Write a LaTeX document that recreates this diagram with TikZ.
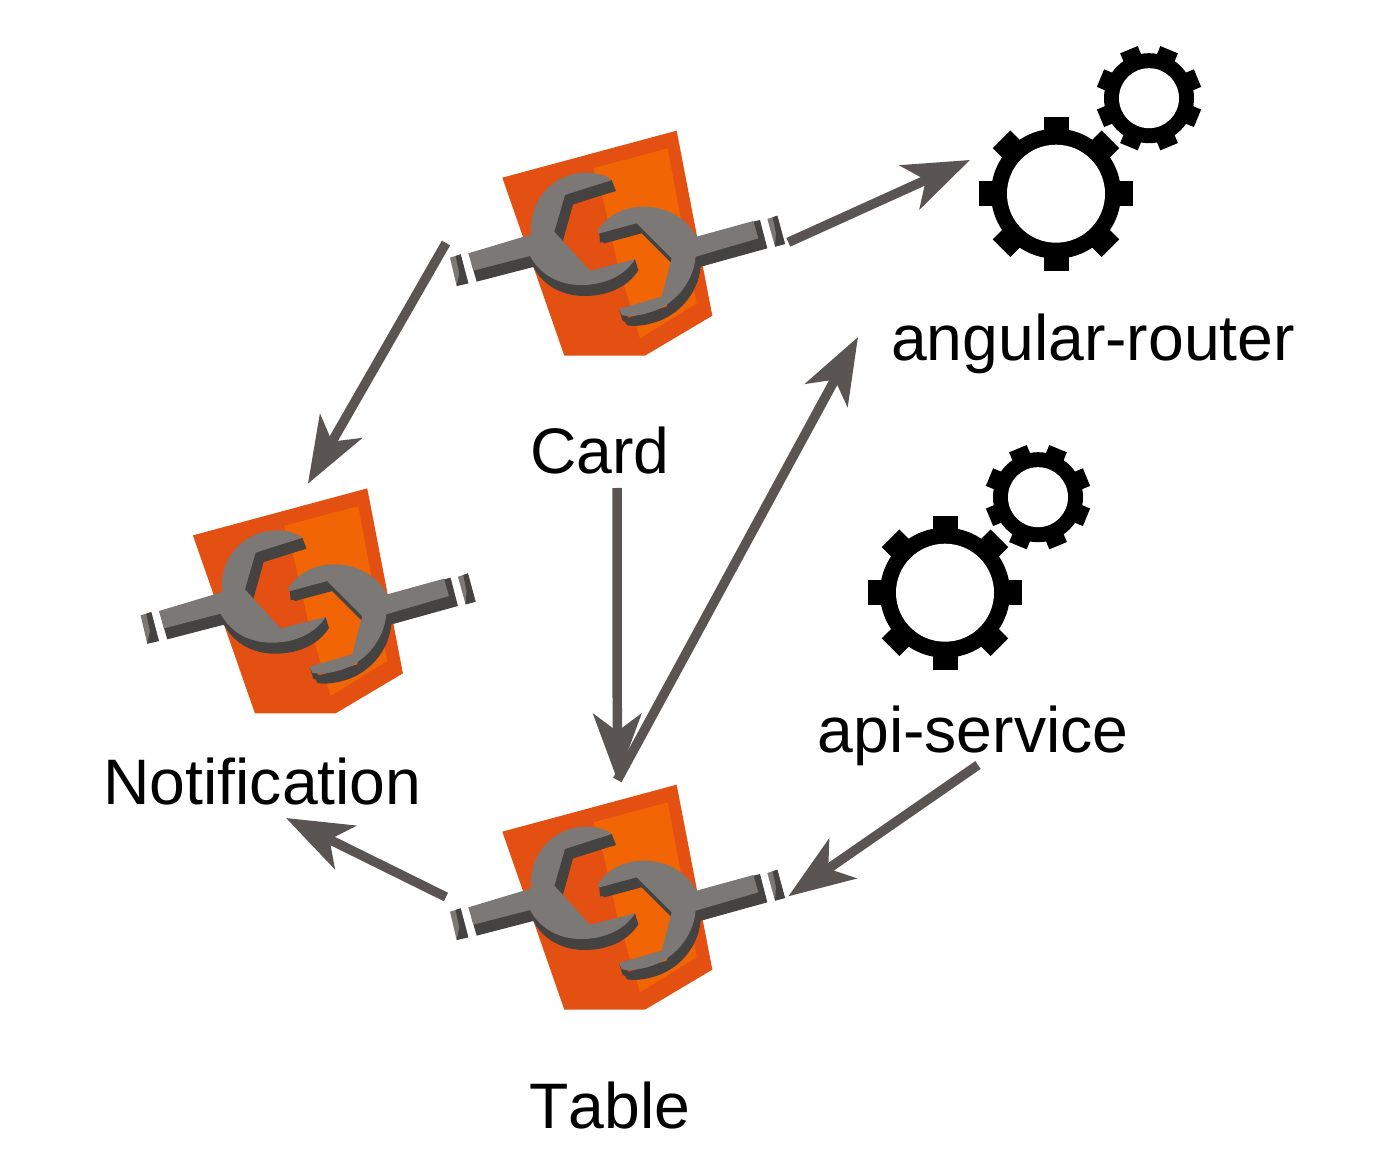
\documentclass[tikz,border=0pt]{standalone}
\usepackage{fontspec}
\setmainfont[Kerning=Off]{Liberation Sans}
\usetikzlibrary{arrows.meta}
\definecolor{shieldDark}{HTML}{E45011}
\definecolor{shieldLight}{HTML}{F16504}
\definecolor{wrenchGray}{HTML}{7B7875}
\definecolor{wrenchDark}{HTML}{454341}
\definecolor{arrowGray}{HTML}{5A5553}
\newcommand{\leftwrench}{(500,170) arc[start angle=-68,end angle=-187,radius=165] -- (85,400) -- (100,452) -- (270,408)
	.. controls (300,465) and (360,497) .. (430,495) .. controls (500,493) and (555,465) .. (585,418)
	-- (450,452) -- (343,335) -- (375,225) -- (515,180) -- cycle}
\newcommand{\rightwrench}{(472,335) .. controls (500,285) and (555,260) .. (610,260) .. controls (680,260) and (740,295) .. (770,350)
	-- (940,303) -- (955,355) -- (767,410) .. controls (760,490) and (700,560) .. (620,580) .. controls (590,588) and (560,590) .. (545,585)
	-- (537,567) -- (665,530) -- (695,415) -- (590,310) -- (478,340) -- cycle}
\tikzset{
	component/.pic={
		\begin{scope}[scale=1/3]
			\fill[shieldDark] (187,173) -- (710,32) -- (817,587) -- (615,707) -- (373,707) -- cycle;
			\fill[shieldLight] (460,145) -- (683,85) -- (770,550) -- (600,655) -- (560,520) -- (530,420) -- (490,240) -- cycle;
			% shadows first
			\fill[wrenchDark,shift={(10,33)}] \leftwrench;
			\fill[wrenchDark] (375,225) -- (515,180) -- (528,213) -- (400,250) -- (368,365) -- (343,335) -- cycle;
			\fill[wrenchDark] (585,418) -- (595,451) -- (540,485) -- (500,470) -- cycle;
			\fill[wrenchDark,shift={(15,30)}] \rightwrench;
			\fill[wrenchDark] (940,305) -- (960,300) -- (982,385) -- (790,438) -- cycle;
			\fill[wrenchDark] (478,340) -- (590,310) -- (610,335) -- (480,368) -- cycle;
			\fill[wrenchDark] (537,567) -- (560,585) -- (575,612) -- (548,603) -- cycle;
			\fill[wrenchGray] \leftwrench;
			\fill[wrenchGray] \rightwrench;
			% loose ends of the handles
			\fill[wrenchGray] (30,413) -- (62,403) -- (85,490) -- (50,498) -- cycle;
			\fill[wrenchDark] (47,408) -- (62,403) -- (85,490) -- (50,498) -- (58,460) -- cycle;
			\fill[wrenchGray] (982,297) -- (1012,287) -- (1035,372) -- (1005,380) -- cycle;
			\fill[wrenchDark] (998,292) -- (1012,287) -- (1035,372) -- (1005,380) -- (1008,340) -- cycle;
			\coordinate (-north) at (532,18);
			\coordinate (-west) at (18,369);
			\coordinate (-east) at (1045,367);
		\end{scope}
	},
	gears/.pic={
		\fill (0,0) circle[radius=65];
		\foreach \a in {0,45,...,315}
			\fill[rotate=\a] (55,-12.5) rectangle (77,12.5);
		\fill[white] (0,0) circle[radius=49];
		\begin{scope}[shift={(93,-95.5)}]
			\fill (0,0) circle[radius=45];
			\foreach \a in {22.5,67.5,...,337.5}
				\fill[rotate=\a] (38,-9.5) rectangle (52.5,9.5);
			\fill[white] (0,0) circle[radius=30];
		\end{scope}
	},
	label/.style={inner sep=0pt,anchor=base,font=\fontsize{36.6}{40}\selectfont},
	dep/.style={arrowGray,line width=5.4pt}
}
\begin{document}
\begin{tikzpicture}[
	x=0.02cm,
	y=-0.02cm,
	>={Stealth[length=37.6pt,width=27.3pt,inset=10pt]}
	]
	\useasboundingbox (0,0) rectangle (1400,1175);
	\pic (card) at (440,120) {component};
	\pic (notification) at (130.6,477.7) {component};
	\pic (table) at (440,774) {component};
	\pic (router) at (1056,193.7) {gears};
	\pic (api) at (945,592.7) {gears};
	\node[label] (cardLabel) at (600,474) {Card};
	\node[label] (notificationLabel) at (262.5,804) {Notification};
	\node[label] (tableLabel) at (610,1128) {Table};
	\node[label] (routerLabel) at (1093,361) {angular-router};
	\node[label] (apiLabel) at (973,752) {api-service};
	\coordinate (cardOut) at (617,488);
	\coordinate (routerIn) at (858,337);
	\coordinate (routerTop) at (970,160);
	\coordinate (apiOut) at (978,765);
	\coordinate (notificationIn) at (286,818);
	\begin{scope}[dep,->]
		\draw (card-west) -- (notification-north);
		\draw (card-east) -- (routerTop);
		\draw (cardOut) -- (table-north);
		\draw (table-north) -- (routerIn);
		\draw (apiOut) -- (table-east);
		\draw (table-west) -- (notificationIn);
	\end{scope}
\end{tikzpicture}
\end{document}
